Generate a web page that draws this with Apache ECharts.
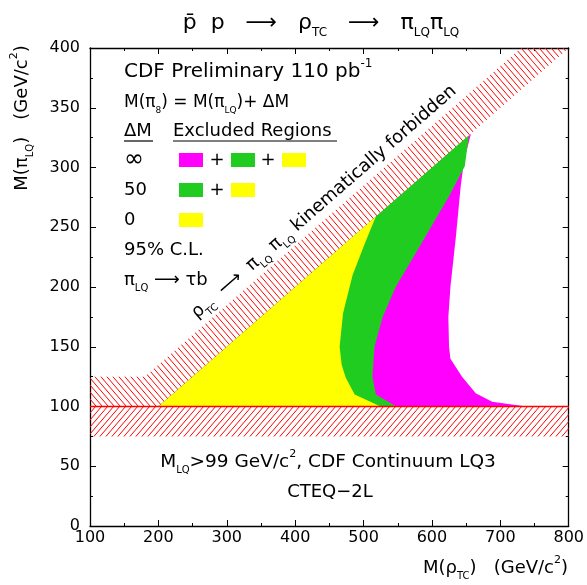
<!DOCTYPE html>
<html>
<head>
<meta charset="utf-8">
<script src="https://cdn.jsdelivr.net/npm/echarts@6/dist/echarts.min.js"></script>
<style>
  html, body { margin: 0; padding: 0; background: #fff; }
  #chart { width: 587px; height: 585px; }
</style>
</head>
<body>
<div id="chart"></div>
<script>
// Axis ranges and ticks (GeV/c^2)
const xRange = [100, 800];
const yRange = [0, 400];
const xStep = 100;
const yStep = 50;

// Kinematic limit M(rho) = 2 M(pi) and the hatched forbidden regions
const kinematicLimit = [[200, 100], [800, 400]];
const forbiddenBand = [[100, 100], [200, 100], [800, 400], [730, 400], [180, 125], [100, 125]];
const continuumBand = [[100, 75], [800, 75], [800, 100], [100, 100]];
const lqLimit = [[100, 100], [800, 100]];

// 95% C.L. excluded regions (upper edge follows the kinematic limit)
const excludedInf = [[200, 100], [657, 328], [647, 306], [642, 284], [635, 242], [627, 200],
  [624, 175], [625, 150], [627, 140], [644, 125], [664, 111], [688, 104], [738, 100]];
const excluded50 = [[200, 100], [654, 327], [648, 301], [625, 276], [576, 228], [547, 200],
  [528, 175], [516, 150], [513, 125], [518, 110], [548, 100]];
const excluded0 = [[200, 100], [518, 259], [503, 238], [484, 210], [470, 178], [465, 150],
  [468, 135], [474, 124], [487, 110], [525, 100]];

const MAGENTA = '#ff00ff';
const GREEN = '#20cc20';
const YELLOW = '#ffff00';
const RED = '#ff0000';
const FONT = 'DejaVu Sans';

function hatch(dir) {
  const w = 6, h = 7;
  const c = document.createElement('canvas');
  c.width = w; c.height = h;
  const g = c.getContext('2d');
  g.strokeStyle = RED;
  g.lineWidth = 1;
  g.beginPath();
  for (let k = -1; k <= 1; k++) {
    if (dir === 'back') { g.moveTo(k * w, 0); g.lineTo(k * w + w, h); }
    else { g.moveTo(k * w, h); g.lineTo(k * w + w, 0); }
  }
  g.stroke();
  return { image: c, repeat: 'repeat' };
}

function area(points, fill) {
  return {
    type: 'custom',
    coordinateSystem: 'cartesian2d',
    clip: true,
    data: [[points[0][0], points[0][1]]],
    renderItem: function (params, api) {
      return {
        type: 'polygon',
        shape: { points: points.map(p => api.coord(p)) },
        style: { fill: fill, stroke: null }
      };
    },
    silent: true
  };
}

const sub = (fs, lh) => ({ fontSize: fs, fontFamily: FONT, lineHeight: lh, verticalAlign: 'bottom', fill: '#000' });
const sup = (fs, lh) => ({ fontSize: fs, fontFamily: FONT, lineHeight: lh, verticalAlign: 'top', fill: '#000' });
const nrm = (fs, lh) => ({ fontSize: fs, fontFamily: FONT, lineHeight: lh, fill: '#000' });

function label(x, y, text, fs, opts) {
  opts = opts || {};
  const lh = Math.round(fs * 1.45);
  return {
    type: 'text', x: x, y: y, rotation: opts.rotation || 0, z: 100,
    style: {
      text: text,
      align: opts.align || 'left',
      verticalAlign: 'middle',
      rich: { n: nrm(fs, lh), s: sub(Math.round(fs * 0.55), Math.round(fs * 0.62)), u: sup(Math.round(fs * 0.6), Math.round(fs * 0.8)) }
    }
  };
}

function box(x, y, color) {
  return { type: 'rect', shape: { x: x, y: y, width: 24, height: 14 }, style: { fill: color }, z: 100 };
}

const chart = echarts.init(document.getElementById('chart'), null, { renderer: 'canvas' });

const tickCommon = {
  axisLine: { show: true, onZero: false, lineStyle: { color: '#000', width: 1.3 } },
  axisTick: { show: true, inside: true, length: 6, lineStyle: { color: '#000' } },
  minorTick: { show: true, splitNumber: 2, length: 3, lineStyle: { color: '#000' } },
  splitLine: { show: false }
};

const option = {
  animation: false,
  backgroundColor: '#fff',
  grid: { left: 90, right: 17, top: 48, bottom: 59 },
  xAxis: [
    Object.assign({
      type: 'value', min: xRange[0], max: xRange[1], interval: xStep, position: 'bottom',
      axisLabel: { show: true, margin: 4, fontSize: 16, fontFamily: FONT, color: '#000' }
    }, tickCommon),
    Object.assign({
      type: 'value', min: xRange[0], max: xRange[1], interval: xStep, position: 'top',
      axisLabel: { show: false }
    }, tickCommon)
  ],
  yAxis: [
    Object.assign({
      type: 'value', min: yRange[0], max: yRange[1], interval: yStep, position: 'left',
      axisLabel: { show: true, margin: 10, fontSize: 16, fontFamily: FONT, color: '#000' }
    }, tickCommon),
    Object.assign({
      type: 'value', min: yRange[0], max: yRange[1], interval: yStep, position: 'right',
      axisLabel: { show: false }
    }, tickCommon)
  ],
  series: [
    area(excludedInf, MAGENTA),
    area(excluded50, GREEN),
    area(excluded0, YELLOW),
    area(forbiddenBand, hatch('back')),
    area(continuumBand, hatch('fwd')),
    {
      type: 'line', data: lqLimit, symbol: 'none', silent: true,
      lineStyle: { color: RED, width: 1.6 }, z: 5
    }
  ],
  graphic: [
    // title
    label(321, 23, '{n|p̄  p   ⟶   ρ}{s|TC}{n|   ⟶   π}{s|LQ}{n|π}{s|LQ}', 22, { align: 'center' }),
    // axis titles
    label(22, 118, '{n|M(π}{s|LQ}{n|)   (GeV/c}{u|2}{n|)}', 18, { align: 'center', rotation: Math.PI / 2 }),
    label(568, 568, '{n|M(ρ}{s|TC}{n|)   (GeV/c}{u|2}{n|)}', 18, { align: 'right' }),
    // annotation block
    label(124, 72, '{n|CDF Preliminary 110 pb}{u|-1}', 20),
    label(124, 103, '{n|M(π}{s|8}{n|) = M(π}{s|LQ}{n|)+ ΔM}', 17),
    label(124, 131, '{n|ΔM}', 18),
    label(173, 131, '{n|Excluded Regions}', 18),
    { type: 'line', shape: { x1: 124, y1: 141, x2: 153, y2: 141 }, style: { stroke: '#000', lineWidth: 1.2 }, z: 100 },
    { type: 'line', shape: { x1: 173, y1: 141, x2: 337, y2: 141 }, style: { stroke: '#000', lineWidth: 1.2 }, z: 100 },
    label(124, 160, '{n|∞}', 24),
    box(179, 153, MAGENTA), label(217, 160, '{n|+}', 18, { align: 'center' }),
    box(231, 153, GREEN), label(268, 160, '{n|+}', 18, { align: 'center' }),
    box(282, 153, YELLOW),
    label(124, 190, '{n|50}', 18),
    box(179, 183, GREEN), label(217, 190, '{n|+}', 18, { align: 'center' }),
    box(231, 183, YELLOW),
    label(124, 220, '{n|0}', 18),
    box(179, 213, YELLOW),
    label(124, 250, '{n|95% C.L.}', 18),
    label(124, 280, '{n|π}{s|LQ}{n| ⟶ τb}', 18),
    // kinematic limit annotation along the diagonal
    label(324, 202, '{n|ρ}{s|TC}{n|  ⟶  π}{s|LQ}{n| π}{s|LQ}{n| kinematically forbidden}', 18,
      { align: 'center', rotation: 41.07 * Math.PI / 180 }),
    // continuum limit notes
    label(328, 462, '{n|M}{s|LQ}{n|>99 GeV/c}{u|2}{n|, CDF Continuum LQ3}', 18.5, { align: 'center' }),
    label(330, 492, '{n|CTEQ−2L}', 18, { align: 'center' })
  ]
};

chart.setOption(option);
</script>
</body>
</html>
